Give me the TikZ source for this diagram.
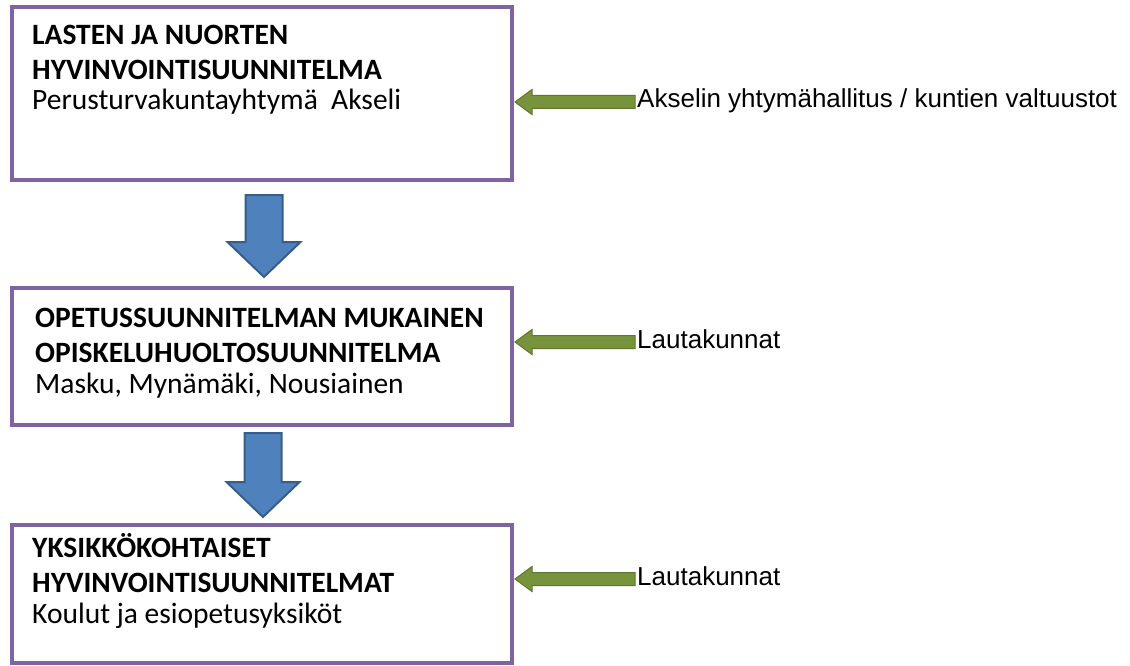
\documentclass[tikz,border=0pt]{standalone}
\usepackage{fontspec}
\setmainfont{Carlito}
\newfontfamily\notefont{Liberation Sans}
\usetikzlibrary{calc}
\definecolor{planpurple}{HTML}{8064A2}
\definecolor{flowblue}{HTML}{4F81BD}
\definecolor{flowblueline}{HTML}{385D8A}
\definecolor{notegreen}{HTML}{77933C}
\definecolor{notegreenline}{HTML}{5F7530}
\tikzset{
  plan/.style={draw=planpurple, line width=3.5pt, minimum width=500pt, inner sep=0pt, outer sep=0pt},
  plantext/.style={anchor=base west, align=left, inner sep=0pt, font=\fontsize{29.5}{35}\selectfont},
  note/.style={anchor=base west, inner sep=0pt, font=\notefont\fontsize{26}{30}\selectfont}
}
\newcommand{\flowdown}[2]{%
  \draw[flowblueline, fill=flowblue, line width=2pt]
    let \p1=(#1), \p2=(#2) in
    (\x1-18.5pt,\y1) -- (\x1+18.5pt,\y1) -- (\x1+18.5pt,\y2+35pt) -- (\x1+36.5pt,\y2+35pt)
    -- (\x1,\y2) -- (\x1-36.5pt,\y2+35pt) -- (\x1-18.5pt,\y2+35pt) -- cycle;}
\newcommand{\noteback}[2]{%
  \draw[notegreenline, fill=notegreen, line width=1pt]
    let \p1=(#1), \p2=(#2) in
    (\x1-2pt,\y1+12.5pt) -- (\x2+17pt,\y1+12.5pt) -- (\x2+17pt,\y1+18.5pt) -- (\x2,\y1+6pt)
    -- (\x2+17pt,\y1-6.5pt) -- (\x2+17pt,\y1-0.5pt) -- (\x1-2pt,\y1-0.5pt) -- cycle;}
\begin{document}
\begin{tikzpicture}
  [x=1pt, y=-1pt]
  \useasboundingbox (0,0) rectangle (1130,666);
  \node[plan, minimum height=173pt] (plan1) at (262,93.5) {};
  \node[plan, minimum height=137pt] (plan2) at (262,356.5) {};
  \node[plan, minimum height=138pt] (plan3) at (262,594) {};
  \node[plantext] (text1) at ($(plan1.north west)+(20,103)$)
    {\bfseries LASTEN JA NUORTEN\\ \bfseries HYVINVOINTISUUNNITELMA\\[-5pt] Perusturvakuntayhtymä\ \ Akseli};
  \node[plantext] (text2) at ($(plan2.north west)+(23,105)$)
    {\bfseries OPETUSSUUNNITELMAN MUKAINEN\\ \bfseries OPISKELUHUOLTOSUUNNITELMA\\[-4pt] Masku, Mynämäki, Nousiainen};
  \node[plantext] (text3) at ($(plan3.north west)+(20,98)$)
    {\bfseries YKSIKKÖKOHTAISET\\ \bfseries HYVINVOINTISUUNNITELMAT\\[-4pt] Koulut ja esiopetusyksiköt};
  \node[note] (note1) at (637,108) {Akselin yhtymähallitus / kuntien valtuustot};
  \node[note] (note2) at (637,348) {Lautakunnat};
  \node[note] (note3) at (637,585) {Lautakunnat};
  \coordinate (down1) at ($(plan1.south)+(2,15)$);
  \coordinate (down2) at ($(plan2.south)+(1,8)$);
  \flowdown{down1}{$(plan2.north)+(2,-11)$}
  \flowdown{down2}{$(plan3.north)+(1,-8)$}
  \noteback{note1.base west}{$(note1.base west -| plan1.east)+(3,0)$}
  \noteback{note2.base west}{$(note2.base west -| plan2.east)+(3,0)$}
  \noteback{note3.base west}{$(note3.base west -| plan3.east)+(3,0)$}
\end{tikzpicture}
\end{document}
